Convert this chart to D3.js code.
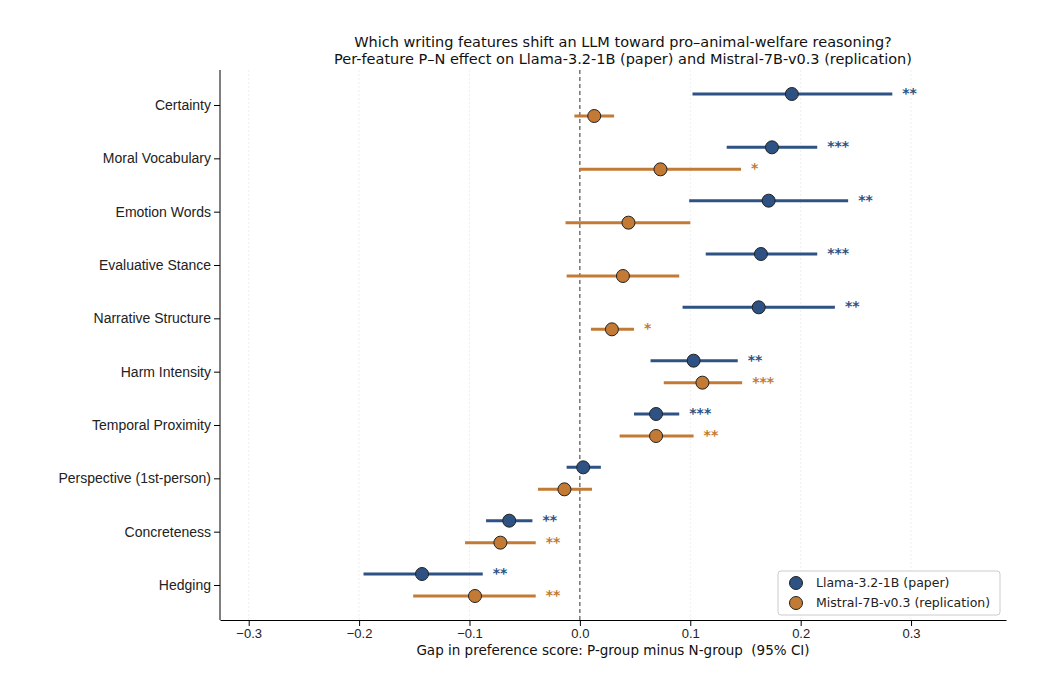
<!DOCTYPE html>
<html>
<head>
<meta charset="utf-8">
<script src="https://cdn.jsdelivr.net/npm/d3@7"></script>
<style>
  body { margin: 0; background: #fff; font-family: "DejaVu Sans", sans-serif; }
</style>
</head>
<body>
<div id="chart"></div>
<script>
// data
const features = ["Certainty", "Moral Vocabulary", "Emotion Words", "Evaluative Stance",
  "Narrative Structure", "Harm Intensity", "Temporal Proximity", "Perspective (1st-person)",
  "Concreteness", "Hedging"];

const llamaMean = [0.192, 0.174, 0.171, 0.164, 0.162, 0.103, 0.069, 0.003, -0.064, -0.143];
const llamaLo   = [0.102, 0.133, 0.099, 0.114, 0.093, 0.064, 0.049, -0.012, -0.085, -0.196];
const llamaHi   = [0.283, 0.215, 0.243, 0.215, 0.231, 0.143, 0.090, 0.019, -0.043, -0.088];
const llamaSig  = ["**", "***", "**", "***", "**", "**", "***", "", "**", "**"];

const mistralMean = [0.013, 0.073, 0.044, 0.039, 0.029, 0.111, 0.069, -0.014, -0.072, -0.095];
const mistralLo   = [-0.005, 0.000, -0.013, -0.012, 0.010, 0.076, 0.036, -0.038, -0.104, -0.151];
const mistralHi   = [0.031, 0.146, 0.100, 0.090, 0.049, 0.147, 0.103, 0.011, -0.040, -0.040];
const mistralSig  = ["", "*", "", "", "*", "***", "**", "", "**", "**"];

const xTicks = [-0.3, -0.2, -0.1, 0.0, 0.1, 0.2, 0.3];

const series = [
  {name: "Llama-3.2-1B (paper)", color: "#2e5283", mean: llamaMean, lo: llamaLo, hi: llamaHi, sig: llamaSig, off: -11},
  {name: "Mistral-7B-v0.3 (replication)", color: "#c27a35", mean: mistralMean, lo: mistralLo, hi: mistralHi, sig: mistralSig, off: 11}
];

// dim
const W = 1060, H = 690;
const m = {left: 220, right: 54, top: 70, bottom: 70};

const svg = d3.select("#chart").append("svg")
  .attr("width", W).attr("height", H);

const x = d3.scaleLinear().domain([-0.326, 0.386]).range([m.left, W - m.right]);
const y = d3.scalePoint().domain(features).range([105, 585]);

// grid
svg.append("g").selectAll("line").data(xTicks).join("line")
  .attr("x1", d => x(d)).attr("x2", d => x(d))
  .attr("y1", m.top).attr("y2", H - m.bottom)
  .attr("stroke", "#efefef").attr("stroke-dasharray", "2,2");

// zero line
svg.append("line")
  .attr("x1", x(0)).attr("x2", x(0)).attr("y1", m.top).attr("y2", H - m.bottom)
  .attr("stroke", "#333").attr("stroke-dasharray", "4,3").attr("stroke-width", 1);

// axes
svg.append("g")
  .attr("transform", `translate(0,${H - m.bottom})`)
  .call(d3.axisBottom(x).tickValues(xTicks).tickSizeOuter(0).tickFormat(d => d3.format(".1f")(d).replace("-", "\u2212")))
  .call(g => g.selectAll("text").attr("font-size", 13).attr("fill", "#222"));
svg.append("g")
  .attr("transform", `translate(${m.left},0)`)
  .call(d3.axisLeft(y).tickSizeOuter(0))
  .call(g => g.select(".domain").attr("d", `M0,${m.top}V${H - m.bottom}`))
  .call(g => g.selectAll("text").attr("font-size", 14).attr("fill", "#222"));

// marks
series.forEach(s => {
  const g = svg.append("g");
  features.forEach((f, i) => {
    const cy = y(f) + s.off;
    g.append("line")
      .attr("x1", x(s.lo[i])).attr("x2", x(s.hi[i]))
      .attr("y1", cy).attr("y2", cy)
      .attr("stroke", s.color).attr("stroke-width", 3);
    g.append("circle")
      .attr("cx", x(s.mean[i])).attr("cy", cy).attr("r", 6.5)
      .attr("fill", s.color).attr("stroke", "#222").attr("stroke-width", 1);
    if (s.sig[i]) {
      g.append("text")
        .attr("x", x(s.hi[i]) + 10).attr("y", cy + 4)
        .attr("fill", s.color).attr("font-size", 14).attr("font-weight", "bold")
        .text(s.sig[i]);
    }
  });
});

// titles
svg.append("text").attr("x", 623).attr("y", 47).attr("text-anchor", "middle")
  .attr("font-size", 14.5).attr("fill", "#111")
  .text("Which writing features shift an LLM toward pro\u2013animal-welfare reasoning?");
svg.append("text").attr("x", 623).attr("y", 64).attr("text-anchor", "middle")
  .attr("font-size", 14.5).attr("fill", "#111")
  .text("Per-feature P\u2013N effect on Llama-3.2-1B (paper) and Mistral-7B-v0.3 (replication)");
svg.append("text").attr("x", 613).attr("y", 655).attr("text-anchor", "middle")
  .attr("font-size", 13.5).attr("fill", "#111")
  .text("Gap in preference score: P-group minus N-group\u00a0\u00a0(95% CI)");

// legend
const lg = svg.append("g").attr("transform", "translate(778,571)");
lg.append("rect").attr("width", 222).attr("height", 44).attr("rx", 3)
  .attr("fill", "#fff").attr("stroke", "#ccc");
series.forEach((s, i) => {
  lg.append("circle").attr("cx", 18).attr("cy", 12 + i * 20).attr("r", 6.5)
    .attr("fill", s.color).attr("stroke", "#222");
  lg.append("text").attr("x", 38).attr("y", 16 + i * 20)
    .attr("font-size", 12.5).attr("fill", "#222").text(s.name);
});
</script>
</body>
</html>
